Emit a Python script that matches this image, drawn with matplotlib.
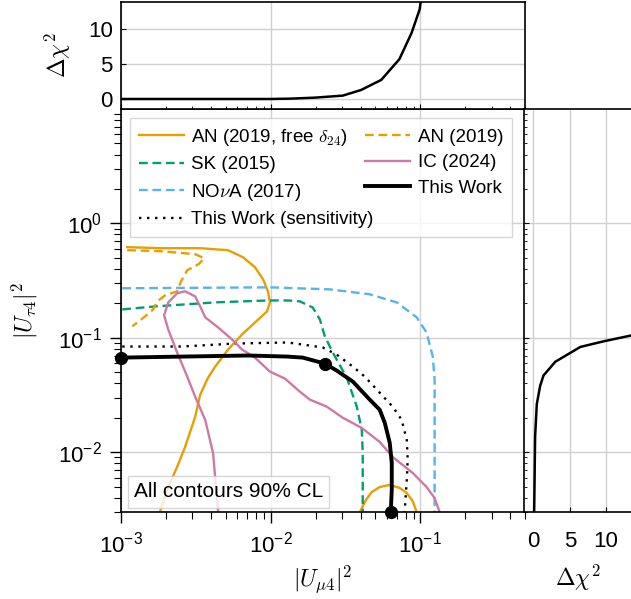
import numpy as np
import matplotlib
matplotlib.use("Agg")
import matplotlib.pyplot as plt

plt.rcParams['font.family'] = ['Liberation Sans', 'DejaVu Sans']
plt.rcParams['mathtext.fontset'] = 'cm'

orange = '#E69F00'
green = '#009E73'
pink = '#CC79A7'
blue = '#56B4E9'

# AN (2019, free delta_24), two pieces
an_free_x = [1.10e-3, 1.83e-3, 3.38e-3, 5.19e-3, 6.53e-3, 7.85e-3, 8.89e-3, 9.59e-3, 9.89e-3, 9.45e-3,
             7.85e-3, 6.44e-3, 5.19e-3, 4.26e-3, 3.82e-3, 3.38e-3, 3.13e-3, 2.68e-3, 2.37e-3, 2.07e-3, 1.83e-3]
an_free_y = [0.620, 0.607, 0.607, 0.583, 0.506, 0.414, 0.325, 0.255, 0.204, 0.170,
             0.136, 0.107, 0.0789, 0.0560, 0.0449, 0.0318, 0.0204, 0.0111, 0.00743, 0.00496, 0.00306]
an_free2_x = [0.0394, 0.0432, 0.0473, 0.0535, 0.0624, 0.0728, 0.0811, 0.0889, 0.0945]
an_free2_y = [0.00299, 0.00381, 0.00448, 0.00496, 0.00517, 0.00487, 0.00440, 0.00373, 0.00299]

# AN (2019)
an_x = [1.10e-3, 1.83e-3, 3.13e-3, 3.60e-3, 3.30e-3, 2.77e-3, 2.52e-3, 2.37e-3, 1.97e-3, 1.75e-3, 1.64e-3, 1.45e-3, 1.19e-3]
an_y = [0.583, 0.572, 0.538, 0.495, 0.440, 0.389, 0.312, 0.255, 0.235, 0.208, 0.177, 0.154, 0.126]

# SK (2015)
sk_x = [1.02e-3, 1.69e-3, 4.26e-3, 9.59e-3, 0.0130, 0.0157, 0.0191, 0.0213, 0.0230, 0.0260,
        0.0322, 0.0376, 0.0406, 0.0412, 0.0412]
sk_y = [0.177, 0.188, 0.204, 0.212, 0.212, 0.208, 0.184, 0.145, 0.103, 0.0743,
        0.0449, 0.0250, 0.0157, 0.00986, 0.00299]

# IC (2024)
ic_x = [4.46e-3, 4.12e-3, 3.65e-3, 3.13e-3, 2.77e-3, 2.37e-3, 2.07e-3, 1.94e-3, 2.07e-3, 2.37e-3,
        2.68e-3, 3.13e-3, 3.38e-3, 3.65e-3, 4.46e-3, 5.52e-3, 6.44e-3, 7.85e-3, 9.89e-3, 0.01245,
        0.01567, 0.01827, 0.0237, 0.0303, 0.0406, 0.0535, 0.0653, 0.0762, 0.0889, 0.110, 0.1245, 0.1345]
ic_y = [0.00299, 0.00986, 0.0192, 0.0305, 0.0458, 0.0743, 0.118, 0.157, 0.204, 0.245,
        0.255, 0.230, 0.188, 0.151, 0.123, 0.0966, 0.0789, 0.0671, 0.0506, 0.0440,
        0.0338, 0.0288, 0.0250, 0.0200, 0.0163, 0.0123, 0.00909, 0.00773, 0.00658, 0.00496, 0.00397, 0.00299]

# NOvA (2017)
nova_x = [1.02e-3, 9.89e-3, 0.0248, 0.0459, 0.0695, 0.0945, 0.110, 0.121, 0.1245, 0.1245]
nova_y = [0.271, 0.276, 0.265, 0.240, 0.204, 0.151, 0.111, 0.0685, 0.0431, 0.00299]

# This Work
tw_x = [1.0e-3, 2.56e-3, 7.06e-3, 0.0130, 0.0164, 0.0230, 0.0276, 0.0354, 0.0459, 0.0535,
        0.0578, 0.0624, 0.0644, 0.0644, 0.0634]
tw_y = [0.0671, 0.0685, 0.0700, 0.0685, 0.0671, 0.0595, 0.0517, 0.0414, 0.0288, 0.0235,
        0.0181, 0.0121, 0.00807, 0.00468, 0.00299]
tw_pts_x = [1.0e-3, 0.0230, 0.0634]
tw_pts_y = [0.0671, 0.0595, 0.00299]

# This Work (sensitivity)
sens_x = [1.02e-3, 2.56e-3, 5.78e-3, 0.0130, 0.0164, 0.0223, 0.0276, 0.0354, 0.0425, 0.0535,
          0.0653, 0.0750, 0.0811, 0.0823, 0.0811, 0.0785]
sens_y = [0.0839, 0.0839, 0.0891, 0.0910, 0.0873, 0.0822, 0.0713, 0.0560, 0.0458, 0.0331,
          0.0250, 0.0192, 0.0128, 0.00855, 0.00571, 0.00299]

# profiles
top_x = [1e-3, 3e-3, 1e-2, 0.01355, 0.01968, 0.0303, 0.0402, 0.0548, 0.0724, 0.0873, 0.0989, 0.1007, 0.1012]
top_y = [0, 0, 0, 0.05, 0.19, 0.48, 1.29, 2.73, 5.69, 9.43, 12.8, 14.0, 14.5]
side_x = [0.1, 0.23, 0.46, 0.92, 1.38, 3.0, 6.45, 9.7, 13.5, 15.0]
side_y = [0.0031, 0.0138, 0.0263, 0.038, 0.0468, 0.0617, 0.0832, 0.0933, 0.105, 0.108]

W, H = 631, 599
fig = plt.figure(figsize=(W / 100, H / 100), dpi=100)
ax = fig.add_axes([121 / W, 1 - 512 / H, 404 / W, 403 / H])
axt = fig.add_axes([121 / W, 1 - 109 / H, 404 / W, 107 / H], sharex=ax)
axr = fig.add_axes([524 / W, 1 - 512 / H, 112 / W, 403 / H], sharey=ax)

dash = (0, (3.7, 2.0))
dot = (0, (1, 2.4))
lw = 1.7
ax.plot(an_free_x, an_free_y, color=orange, lw=lw, label=r'AN (2019, free $\delta_{24}$)')
ax.plot(an_free2_x, an_free2_y, color=orange, lw=lw)
ax.plot(sk_x, sk_y, color=green, lw=lw, ls=dash, label='SK (2015)')
ax.plot(nova_x, nova_y, color=blue, lw=lw, ls=dash, label=r'NO$\nu$A (2017)')
ax.plot(sens_x, sens_y, color='black', lw=1.7, ls=dot, label='This Work (sensitivity)')
ax.plot(an_x, an_y, color=orange, lw=lw, ls=dash, label='AN (2019)')
ax.plot(ic_x, ic_y, color=pink, lw=lw, label='IC (2024)')
ax.plot(tw_x, tw_y, color='black', lw=2.8, label='This Work')
ax.plot(tw_pts_x, tw_pts_y, 'o', color='black', ms=8.5, clip_on=False, zorder=5)

ax.set_xscale('log')
ax.set_yscale('log')
ax.set_xlim(1e-3, 0.5)
ax.set_ylim(3e-3, 10)
ax.set_xticks([1e-3, 1e-2, 1e-1])
ax.set_yticks([1e-2, 1e-1, 1e0])
ax.grid(True, which='major', color='#d0d0d0', lw=1)
ax.tick_params(which='major', length=8, width=1, pad=6, labelsize=16)
ax.tick_params(which='minor', length=5, width=0.8)
ax.set_xlabel(r'$|U_{\mu 4}|^2$', fontsize=17)
ax.set_ylabel(r'$|U_{\tau 4}|^2$', fontsize=17)
ax.xaxis.set_label_coords(0.5, -0.128)
ax.yaxis.set_label_coords(-0.2, 0.5)
for s in ax.spines.values():
    s.set_linewidth(1.2)

leg = ax.legend(loc='upper left', ncol=2, fontsize=13.5, handlelength=2.4, handletextpad=0.4,
                columnspacing=-0.45, labelspacing=0.45, fancybox=False, edgecolor='#cccccc',
                framealpha=0.8, borderaxespad=0.5, borderpad=0.45)
ax.text(0.032, 0.05, 'All contours 90% CL', transform=ax.transAxes, fontsize=15, va='center',
        bbox=dict(boxstyle='square,pad=0.3', fc='white', ec='#cccccc', alpha=0.8), zorder=6)

axt.plot(top_x, top_y, color='black', lw=1.8)
axt.set_ylim(-1.43, 13.86)
axt.set_yticks([0, 5, 10])
axt.grid(True, which='major', color='#d0d0d0', lw=1)
axt.tick_params(axis='x', which='both', direction='in', labelbottom=False)
axt.tick_params(axis='y', direction='in', labelsize=16, pad=6)
axt.set_ylabel(r'$\Delta\chi^2$', fontsize=17)
axt.yaxis.set_label_coords(-0.12, 0.5)
for s in axt.spines.values():
    s.set_linewidth(1.2)

axr.plot(side_x, side_y, color='black', lw=1.8)
axr.set_xlim(-1.3, 14.1)
axr.set_xticks([0, 5, 10])
axr.grid(True, which='major', color='#d0d0d0', lw=1)
axr.tick_params(axis='y', which='both', direction='in', labelleft=False)
axr.tick_params(axis='x', direction='in', labelsize=16, pad=14)
axr.set_xlabel(r'$\Delta\chi^2$', fontsize=17)
axr.xaxis.set_label_coords(0.48, -0.127)
for s in axr.spines.values():
    s.set_linewidth(1.2)

fig.savefig('out.png', dpi=100)
